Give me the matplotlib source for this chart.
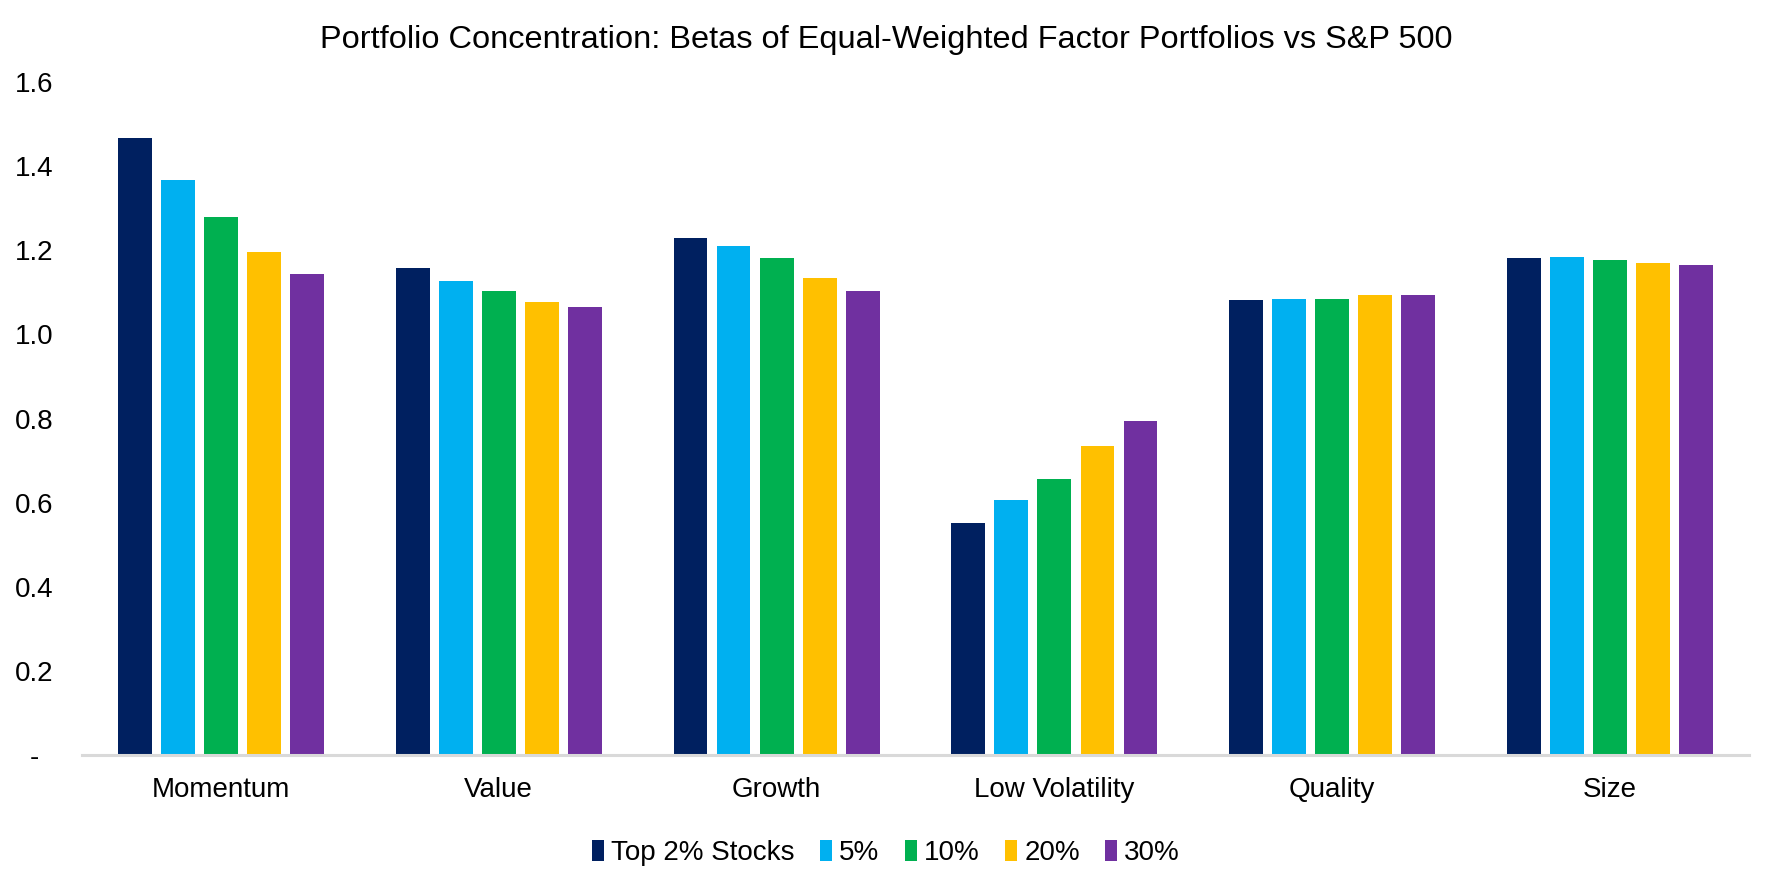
import matplotlib
matplotlib.use("Agg")
import matplotlib.pyplot as plt
import numpy as np
from matplotlib.patches import Patch

plt.rcParams['font.family'] = ['Liberation Sans', 'DejaVu Sans']

categories = ["Momentum", "Value", "Growth", "Low Volatility", "Quality", "Size"]
series_names = ["Top 2% Stocks", "5%", "10%", "20%", "30%"]
top2 = [1.466, 1.157, 1.230, 0.551, 1.081, 1.181]
p5 = [1.366, 1.126, 1.209, 0.606, 1.085, 1.183]
p10 = [1.280, 1.102, 1.181, 0.656, 1.085, 1.176]
p20 = [1.195, 1.078, 1.135, 0.734, 1.093, 1.169]
p30 = [1.143, 1.064, 1.104, 0.793, 1.093, 1.166]
series = [top2, p5, p10, p20, p30]
colors = ["#002060", "#00B0F0", "#00B050", "#FFC000", "#7030A0"]
yticks = [0, 0.2, 0.4, 0.6, 0.8, 1.0, 1.2, 1.4, 1.6]
ytick_labels = ["-", "0.2", "0.4", "0.6", "0.8", "1.0", "1.2", "1.4", "1.6"]

fig = plt.figure(figsize=(17.72, 8.86), dpi=100)
ax = fig.add_axes([0.0463, 0.1479, 0.9407, 0.7595])

x = np.arange(len(categories))
pitch = 0.155
width = 0.122
for i, (vals, c) in enumerate(zip(series, colors)):
    ax.bar(x + (i - 2) * pitch, vals, width=width, color=c, zorder=2)

ax.set_xlim(-0.5, len(categories) - 0.5)
ax.set_ylim(0, 1.6)
ax.set_yticks(yticks)
ax.set_yticklabels(ytick_labels, fontsize=20, color="#000000")
for lab in ax.get_yticklabels():
    lab.set_horizontalalignment('center')
ax.tick_params(axis='y', length=0, pad=34.5)
ax.set_xticks(x)
ax.set_xticklabels(categories, fontsize=20)
ax.tick_params(axis='x', length=0, pad=16)

for s in ['top', 'right', 'left']:
    ax.spines[s].set_visible(False)
ax.spines['bottom'].set_color('#D9D9D9')
ax.spines['bottom'].set_linewidth(2.2)
ax.spines['bottom'].set_zorder(3)

fig.text(0.5, 0.955, "Portfolio Concentration: Betas of Equal-Weighted Factor Portfolios vs S&P 500",
         ha='center', va='center', fontsize=23.4)

handles = [Patch(facecolor=c, edgecolor='none') for c in colors]
fig.legend(handles, series_names, loc='center', bbox_to_anchor=(0.5, 0.037), ncol=5,
           frameon=False, fontsize=20, handlelength=0.45, handleheight=0.75,
           handletextpad=0.25, columnspacing=0.9)

fig.savefig("out.png", dpi=100)
